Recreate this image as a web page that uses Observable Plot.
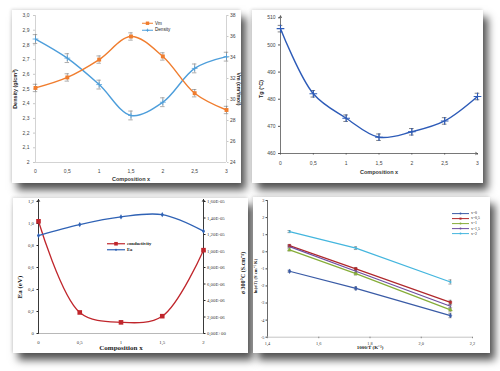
<!DOCTYPE html>
<html><head><meta charset="utf-8">
<script src="https://cdn.jsdelivr.net/npm/d3@7"></script>
<script src="https://cdn.jsdelivr.net/npm/@observablehq/plot@0.6"></script>
<style>
html,body{margin:0;padding:0;background:#fff}
#page{position:relative;width:500px;height:371px;overflow:hidden;background:#fff}
.card{position:absolute;background:#fff;box-shadow:5px 7px 8px rgba(0,0,0,0.68),-1px -1px 3px rgba(0,0,0,0.12)}
.card svg{position:absolute;left:0;top:0;overflow:visible}
.leg{position:absolute;white-space:nowrap;width:max-content}
.leg .row{display:flex;align-items:center}
.leg svg{position:static;display:block;margin-right:2px}
.vlab{position:absolute;white-space:nowrap;width:max-content;font-weight:bold;color:#222;line-height:1}
</style>
</head><body>
<div id="page">
  <div class="card" id="c1" style="left:12px;top:10px;width:229px;height:173px"></div>
  <div class="card" id="c2" style="left:252px;top:10px;width:231px;height:173px"></div>
  <div class="card" id="c3" style="left:13px;top:198px;width:235px;height:155px"></div>
  <div class="card" id="c4" style="left:253px;top:197px;width:237px;height:156px"></div>
</div>
<script>
// ---------- Panel 1: Density & Vm ----------
const comp1 = [0, 0.5, 1, 1.5, 2, 2.5, 3];
const comp1Labels = ["0", "0,5", "1", "1,5", "2", "2,5", "3"];
const density = [2.84, 2.71, 2.53, 2.32, 2.41, 2.64, 2.72];
const densityErr = [0.03, 0.03, 0.03, 0.03, 0.03, 0.03, 0.03];
const vm = [31.1, 32.1, 33.8, 36.0, 34.1, 30.6, 29.0];
const vmErr = [0.35, 0.35, 0.35, 0.35, 0.35, 0.35, 0.35];
const densTicks = [2, 2.1, 2.2, 2.3, 2.4, 2.5, 2.6, 2.7, 2.8, 2.9, 3.0];
const densLabels = ["2", "2,1", "2,2", "2,3", "2,4", "2,5", "2,6", "2,7", "2,8", "2,9", "3,0"];
const vmTicks = [24, 26, 28, 30, 32, 34, 36, 38];

// ---------- Panel 2: Tg ----------
const comp2 = [0, 0.5, 1, 1.5, 2, 2.5, 3];
const comp2Labels = ["0", "0,5", "1", "1,5", "2", "2,5", "3"];
const tg = [506, 482, 473, 466, 468, 472, 481];
const tgErr = [1.2, 1.2, 1.2, 1.2, 1.2, 1.2, 1.2];
const tgTicks = [460, 470, 480, 490, 500, 510];

// ---------- Panel 3: Ea & conductivity ----------
const comp3 = [0, 0.5, 1, 1.5, 2];
const comp3Labels = ["0", "0,5", "1", "1,5", "2"];
const ea = [0.89, 0.99, 1.06, 1.08, 0.93];
const cond = [1.36e-5, 2.55e-6, 1.35e-6, 2.1e-6, 1.01e-5];
const eaTicks = [0, 0.2, 0.4, 0.6, 0.8, 1.0, 1.2];
const eaLabels = ["0", "0,2", "0,4", "0,6", "0,8", "1,0", "1,2"];
const condTicks = [0, 2e-6, 4e-6, 6e-6, 8e-6, 1e-5, 1.2e-5, 1.4e-5, 1.6e-5];
const condLabels = ["0,00E+00", "2,00E-06", "4,00E-06", "6,00E-06", "8,00E-06", "1,00E-05", "1,20E-05", "1,40E-05", "1,60E-05"];

// ---------- Panel 4: Arrhenius ----------
const invT = [1.486, 1.745, 2.114];
const lnX0 = [-1.14, -2.14, -3.74];
const lnX05 = [0.36, -1.0, -2.96];
const lnX1 = [0.11, -1.28, -3.4];
const lnX15 = [0.3, -1.14, -3.19];
const lnX2 = [1.18, 0.21, -1.77];
const lnErr = [0.06, 0.08, 0.12];
const series4Names = ["x=0", "x=0,5", "x=1", "x=1,5", "x=2"];
const invTTicks = [1.4, 1.6, 1.8, 2.0, 2.2];
const invTLabels = ["1,4", "1,6", "1,8", "2,0", "2,2"];
const lnTicks = [-5, -4, -3, -2, -1, 0, 1, 2, 3];

// ===== helpers =====
const lab = (ticks, labels) => d => labels[ticks.indexOf(d)];
function legend(parent, items, opt) {
  const div = document.createElement("div");
  div.className = "leg";
  div.style.left = opt.left + "px";
  div.style.top = opt.top + "px";
  div.style.fontSize = opt.font + "px";
  div.style.fontFamily = opt.family;
  div.style.fontWeight = opt.weight || "normal";
  div.style.color = "#222";
  for (const it of items) {
    const w = opt.sw, h = opt.rowH;
    let mk = "";
    const cx = w / 2, cy = h / 2, s = it.ms || 1.5;
    if (it.marker === "square") mk = `<rect x="${cx - s}" y="${cy - s}" width="${2 * s}" height="${2 * s}" fill="${it.color}"/>`;
    else if (it.marker === "plus") mk = `<path d="M${cx - s},${cy}H${cx + s}M${cx},${cy - s}V${cy + s}" stroke="${it.color}" stroke-width="0.8"/>`;
    else mk = `<circle cx="${cx}" cy="${cy}" r="${s}" fill="${it.color}"/>`;
    div.insertAdjacentHTML("beforeend",
      `<div class="row" style="height:${h}px"><svg width="${w}" height="${h}"><line x1="0" x2="${w}" y1="${cy}" y2="${cy}" stroke="${it.color}" stroke-width="${opt.lw || 1}"/>${mk}</svg><span>${it.label}</span></div>`);
  }
  parent.appendChild(div);
}
function vlabel(parent, text, cx, cy, rot, size, family) {
  const d = document.createElement("div");
  d.className = "vlab";
  d.textContent = text;
  d.style.left = cx + "px";
  d.style.top = cy + "px";
  d.style.fontSize = size + "px";
  d.style.fontFamily = family;
  d.style.transform = `translate(-50%,-50%) rotate(${rot}deg)`;
  parent.appendChild(d);
}

// ===== Panel 1 =====
{
  const densDom = [2, 3], vmDom = [24, 38];
  const vmToY = v => densDom[0] + (v - vmDom[0]) / (vmDom[1] - vmDom[0]) * (densDom[1] - densDom[0]);
  const vmTicksY = vmTicks.map(vmToY);
  const data = comp1.map((x, i) => ({x, d: density[i], de: densityErr[i], v: vmToY(vm[i]), ve: vmToY(vm[i] + vmErr[i]) - vmToY(vm[i])}));
  const orange = "#f07d2e", blue = "#4d9edb", cap = 0.035;
  const sans = "Liberation Sans, Arial, sans-serif";
  const p = Plot.plot({
    width: 229, height: 173, marginLeft: 23, marginRight: 15, marginTop: 5, marginBottom: 21,
    style: {background: "transparent", fontSize: "5px", fontFamily: sans, color: "#444", overflow: "visible"},
    x: {domain: [0, 3]}, y: {domain: densDom},
    marks: [
      Plot.ruleX([0, 3], {stroke: "#c8c8c8", strokeWidth: 0.8}),
      Plot.ruleY([2], {stroke: "#c8c8c8", strokeWidth: 0.8}),
      Plot.axisX({ticks: comp1, tickFormat: lab(comp1, comp1Labels), tickSize: 0, tickPadding: 7, label: null}),
      Plot.axisY({anchor: "left", ticks: densTicks, tickFormat: lab(densTicks, densLabels), tickSize: 2, tickPadding: 4, label: null, stroke: "#c8c8c8"}),
      Plot.axisY({anchor: "right", ticks: vmTicksY, tickFormat: d => String(vmTicks[vmTicksY.indexOf(d)]), tickSize: 1.5, tickPadding: 2, label: null, stroke: "#c8c8c8"}),
      Plot.ruleX(data, {x: "x", y1: d => d.d - d.de, y2: d => d.d + d.de, stroke: "#777", strokeWidth: 0.6}),
      Plot.ruleY(data, {y: d => d.d - d.de, x1: d => d.x - cap, x2: d => d.x + cap, stroke: "#777", strokeWidth: 0.6}),
      Plot.ruleY(data, {y: d => d.d + d.de, x1: d => d.x - cap, x2: d => d.x + cap, stroke: "#777", strokeWidth: 0.6}),
      Plot.ruleX(data, {x: "x", y1: d => d.v - d.ve, y2: d => d.v + d.ve, stroke: "#777", strokeWidth: 0.6}),
      Plot.ruleY(data, {y: d => d.v - d.ve, x1: d => d.x - cap, x2: d => d.x + cap, stroke: "#777", strokeWidth: 0.6}),
      Plot.ruleY(data, {y: d => d.v + d.ve, x1: d => d.x - cap, x2: d => d.x + cap, stroke: "#777", strokeWidth: 0.6}),
      Plot.line(data, {x: "x", y: "d", curve: "catmull-rom", stroke: blue, strokeWidth: 1.4}),
      Plot.line(data, {x: "x", y: "v", curve: "catmull-rom", stroke: orange, strokeWidth: 1.4}),
      Plot.dot(data, {x: "x", y: "v", symbol: "square", r: 2.2, fill: orange}),
      Plot.dot(data, {x: "x", y: "d", symbol: "plus", r: 2, stroke: blue, strokeWidth: 0.8}),
      Plot.text(["Composition x"], {frameAnchor: "bottom", dy: 18, fontWeight: "bold", fontSize: 5.5, fill: "#333"})
    ]
  });
  const c = document.getElementById("c1");
  c.appendChild(p);
  vlabel(c, "Density (g/cm³)", 4, 79, -90, 5.5, sans);
  vlabel(c, "Vm (cm³/mol)", 225.5, 79, 90, 5.2, sans);
  legend(c, [{label: "Vm", color: orange, marker: "square", ms: 1.7}, {label: "Density", color: blue, marker: "plus", ms: 1.6}],
    {left: 130, top: 10, font: 4.6, family: sans, rowH: 6.5, sw: 11, lw: 1});
}

// ===== Panel 2 =====
{
  const xDom = [0, 3], yDom = [460, 510];
  const data = comp2.map((x, i) => ({x, y: tg[i], e: tgErr[i]}));
  const blue = "#2d5bb8", cap = 0.035;
  const sans = "Liberation Sans, Arial, sans-serif";
  const p = Plot.plot({
    width: 231, height: 173, marginLeft: 28, marginRight: 6, marginTop: 7.3, marginBottom: 30,
    style: {background: "transparent", fontSize: "5px", fontFamily: sans, color: "#444", overflow: "visible"},
    x: {domain: xDom}, y: {domain: yDom},
    marks: [
      Plot.arrow([{x1: xDom[0], y1: yDom[0], x2: xDom[0], y2: yDom[1]}], {x1: "x1", y1: "y1", x2: "x2", y2: "y2", stroke: "#555", strokeWidth: 0.8, headLength: 4, insetEnd: -2}),
      Plot.arrow([{x1: xDom[0], y1: yDom[0], x2: xDom[1], y2: yDom[0]}], {x1: "x1", y1: "y1", x2: "x2", y2: "y2", stroke: "#555", strokeWidth: 0.8, headLength: 4}),
      Plot.axisX({ticks: comp2, tickFormat: lab(comp2, comp2Labels), tickSize: 1.5, tickPadding: 6, label: null, stroke: "#555"}),
      Plot.axisY({anchor: "left", ticks: tgTicks, tickFormat: d => String(d), tickSize: 2, tickPadding: 3, label: null, stroke: "#555"}),
      Plot.ruleX(data, {x: "x", y1: d => d.y - d.e, y2: d => d.y + d.e, stroke: "#333", strokeWidth: 0.6}),
      Plot.ruleY(data, {y: d => d.y - d.e, x1: d => d.x - cap, x2: d => d.x + cap, stroke: "#333", strokeWidth: 0.6}),
      Plot.ruleY(data, {y: d => d.y + d.e, x1: d => d.x - cap, x2: d => d.x + cap, stroke: "#333", strokeWidth: 0.6}),
      Plot.line(data, {x: "x", y: "y", curve: "catmull-rom", stroke: blue, strokeWidth: 1.4}),
      Plot.dot(data, {x: "x", y: "y", symbol: "plus", r: 2.6, stroke: blue, strokeWidth: 1.1}),
      Plot.text(["Composition x"], {frameAnchor: "bottom", dy: 20, fontWeight: "bold", fontSize: 5.5, fill: "#333"})
    ]
  });
  const c = document.getElementById("c2");
  c.appendChild(p);
  vlabel(c, "Tg (°C)", 10, 79, -90, 5.5, sans);
}

// ===== Panel 3 =====
{
  const xDom = [0, 2], yDom = [0, 1.2], cDom = [0, 1.6e-5];
  const cToY = c => yDom[0] + (c - cDom[0]) / (cDom[1] - cDom[0]) * (yDom[1] - yDom[0]);
  const condTicksY = condTicks.map(cToY);
  const data = comp3.map((x, i) => ({x, ea: ea[i], c: cToY(cond[i])}));
  const red = "#c0262c", blue = "#2f62b5";
  const serif = "Liberation Serif, Times New Roman, serif";
  const p = Plot.plot({
    width: 235, height: 155, marginLeft: 25, marginRight: 45, marginTop: 3, marginBottom: 20,
    style: {background: "transparent", fontSize: "4.8px", fontFamily: serif, color: "#333", overflow: "visible"},
    x: {domain: xDom}, y: {domain: yDom},
    marks: [
      Plot.ruleY([yDom[0]], {stroke: "#999", strokeWidth: 0.7}),
      Plot.arrow([{x1: xDom[0], y1: yDom[0], x2: xDom[0], y2: yDom[1]}], {x1: "x1", y1: "y1", x2: "x2", y2: "y2", stroke: "#222", strokeWidth: 0.9, headLength: 3.5, insetEnd: -2}),
      Plot.arrow([{x1: xDom[1], y1: yDom[0], x2: xDom[1], y2: yDom[1]}], {x1: "x1", y1: "y1", x2: "x2", y2: "y2", stroke: "#222", strokeWidth: 0.9, headLength: 3.5, insetEnd: -2}),
      Plot.axisX({ticks: comp3, tickFormat: lab(comp3, comp3Labels), tickSize: 0, tickPadding: 7, label: null}),
      Plot.axisY({anchor: "left", ticks: eaTicks, tickFormat: lab(eaTicks, eaLabels), tickSize: 1.5, tickPadding: 3, label: null, stroke: "#222"}),
      Plot.axisY({anchor: "right", ticks: condTicksY, tickFormat: d => condLabels[condTicksY.indexOf(d)], tickSize: 1.5, tickPadding: 2, label: null, stroke: "#222"}),
      Plot.line(data, {x: "x", y: "c", curve: "catmull-rom", stroke: red, strokeWidth: 1.3}),
      Plot.line(data, {x: "x", y: "ea", curve: "catmull-rom", stroke: blue, strokeWidth: 1.3}),
      Plot.dot(data, {x: "x", y: "c", symbol: "square", r: 2.6, fill: red}),
      Plot.dot(data, {x: "x", y: "ea", symbol: "diamond", r: 1.6, fill: blue}),
      Plot.text(["Composition x"], {frameAnchor: "bottom", dy: 16, fontWeight: "bold", fontSize: 7, fill: "#222"})
    ]
  });
  const c = document.getElementById("c3");
  c.appendChild(p);
  vlabel(c, "Ea (eV)", 7, 89, -90, 7, serif);
  vlabel(c, "σ 300°C (S.cm⁻¹)", 230, 75, -90, 6, serif);
  legend(c, [{label: "conductivity", color: red, marker: "square", ms: 1.8}, {label: "Ea", color: blue, marker: "circle", ms: 1.1}],
    {left: 94, top: 43, font: 4.6, family: serif, weight: "bold", rowH: 5.5, sw: 18, lw: 1.2});
}

// ===== Panel 4 =====
{
  const xDom = [1.4, 2.2], yDom = [-5, 3];
  const colors = ["#3a5ba6", "#b0282b", "#86ad38", "#6d4ea0", "#44b6de"];
  const symbols = ["diamond", "square", "triangle", "times", "asterisk"];
  const all = [lnX0, lnX05, lnX1, lnX15, lnX2];
  const data = all.flatMap((arr, k) => arr.map((y, i) => ({s: series4Names[k], k, x: invT[i], y, e: lnErr[i]})));
  const cap = 0.006;
  const serif = "Liberation Serif, Times New Roman, serif";
  const p = Plot.plot({
    width: 237, height: 156, marginLeft: 14, marginRight: 18, marginTop: 3, marginBottom: 16.3,
    style: {background: "transparent", fontSize: "4.3px", fontFamily: serif, color: "#333", overflow: "visible"},
    x: {domain: xDom}, y: {domain: yDom},
    color: {domain: series4Names, range: colors},
    marks: [
      Plot.ruleY([yDom[0]], {stroke: "#aaa", strokeWidth: 0.7}),
      Plot.ruleX([xDom[0]], {stroke: "#444", strokeWidth: 0.8}),
      Plot.axisX({ticks: invTTicks, tickFormat: lab(invTTicks, invTLabels), tickSize: 1.5, tickPadding: 3, label: null, stroke: "#888"}),
      Plot.axisY({anchor: "left", ticks: lnTicks, tickFormat: d => String(d), tickSize: 1.5, tickPadding: 1.5, label: null, stroke: "#444"}),
      Plot.ruleX(data, {x: "x", y1: d => d.y - d.e, y2: d => d.y + d.e, stroke: "#444", strokeWidth: 0.5}),
      Plot.ruleY(data, {y: d => d.y - d.e, x1: d => d.x - cap, x2: d => d.x + cap, stroke: "#444", strokeWidth: 0.5}),
      Plot.ruleY(data, {y: d => d.y + d.e, x1: d => d.x - cap, x2: d => d.x + cap, stroke: "#444", strokeWidth: 0.5}),
      Plot.line(data, {x: "x", y: "y", z: "s", stroke: "s", strokeWidth: 1.2}),
      Plot.dot(data, {x: "x", y: "y", fill: "s", symbol: d => symbols[d.k], r: 1.4, stroke: "s", strokeWidth: 0.5}),
      Plot.text(["1000/T (K⁻¹)"], {frameAnchor: "bottom", dy: 12, fontWeight: "bold", fontSize: 5, fill: "#222"})
    ]
  });
  const c = document.getElementById("c4");
  c.appendChild(p);
  vlabel(c, "ln(σT) (S cm⁻¹ K)", 3, 79, -90, 4.6, serif);
  legend(c, series4Names.map((n, k) => ({label: n, color: colors[k], marker: k === 1 ? "square" : "circle", ms: 1})),
    {left: 199, top: 13.5, font: 3.8, family: serif, rowH: 5.2, sw: 17, lw: 1});
}
</script>
</body></html>
